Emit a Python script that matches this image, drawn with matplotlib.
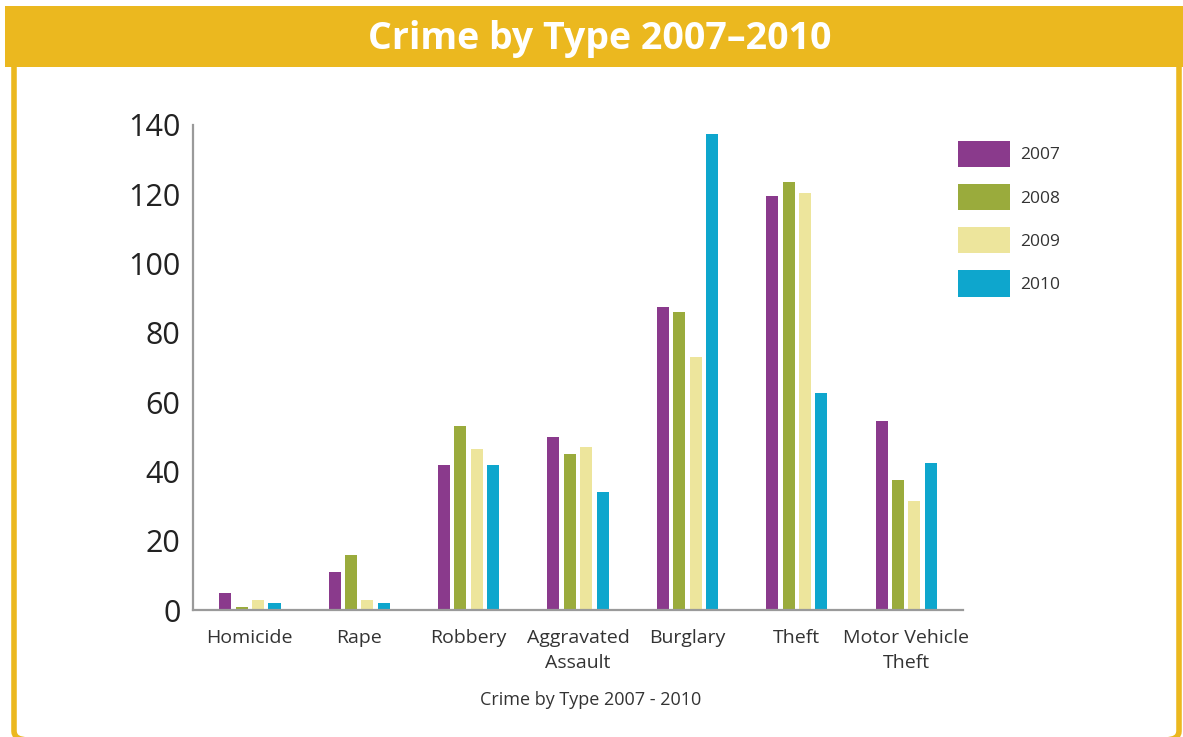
import matplotlib
matplotlib.use('Agg')
import numpy as np
import matplotlib.pyplot as plt
from matplotlib.patches import FancyBboxPatch, Rectangle

plt.rcParams['font.family'] = ['Open Sans', 'DejaVu Sans']

# datos
categorias = ['Homicide', 'Rape', 'Robbery', 'Aggravated\nAssault', 'Burglary',
              'Theft', 'Motor Vehicle\nTheft']
anios = ['2007', '2008', '2009', '2010']
v2007 = [5, 11, 42, 50, 87.5, 119.5, 54.5]
v2008 = [1, 16, 53, 45, 86, 123.5, 37.5]
v2009 = [3, 3, 46.5, 47, 73, 120.5, 31.5]
v2010 = [2, 2, 42, 34, 137.5, 62.5, 42.5]
colores = ['#8a3a8c', '#9aab3c', '#ede59c', '#0ea6cd']

amarillo = '#ebb81f'

fig = plt.figure(figsize=(11.83, 7.37), dpi=100)

# marco amarillo con esquinas redondeadas
marco = FancyBboxPatch((14 / 1183, -0.004), 1 - 14 / 1183 - 4 / 1183, 0.988,
                       boxstyle='round,pad=0,rounding_size=0.012',
                       transform=fig.transFigure, facecolor='white',
                       edgecolor=amarillo, linewidth=4, zorder=-2)
fig.patches.append(marco)
cabecera = Rectangle((5 / 1183, 1 - 67 / 737), 1 - 5 / 1183, 61 / 737,
                     transform=fig.transFigure, facecolor=amarillo,
                     edgecolor='none', zorder=-1)
fig.patches.append(cabecera)
fig.text(0.507, 1 - 39 / 737, 'Crime by Type 2007\u20132010', color='white',
         fontsize=27, fontweight='bold', ha='center', va='center')

ax = fig.add_axes([193 / 1183, 1 - 610 / 737, 770 / 1183, 485 / 737])
ax.set_facecolor('none')
x = np.arange(len(categorias))
paso = 0.15
ancho = 0.11
series = [v2007, v2008, v2009, v2010]
for i, (vals, anio) in enumerate(zip(series, anios)):
    ax.bar(x + (i - 1.5) * paso, vals, width=ancho, color=colores[i], label=anio)

ax.set_xlim(-0.52, 6.52)
ax.set_ylim(0, 140)
ax.set_yticks(range(0, 141, 20))
ax.set_xticks(x)
ax.set_xticklabels(categorias, fontsize=14, color='#333333', linespacing=1.45)
ax.tick_params(axis='y', labelsize=22, colors='#222222', length=0, pad=9)
ax.tick_params(axis='x', length=0, pad=14)
for s in ['top', 'right']:
    ax.spines[s].set_visible(False)
for s in ['left', 'bottom']:
    ax.spines[s].set_color('#9a9a9a')
    ax.spines[s].set_linewidth(1.6)
ax.set_xlabel('Crime by Type 2007 - 2010', fontsize=13, color='#333333',
              labelpad=14, x=0.517)

fig.legend(loc='upper left', bbox_to_anchor=(942 / 1183, 1 - 125 / 737),
           frameon=False, fontsize=12.5, handlelength=3.0, handleheight=1.95,
           labelspacing=0.98, handletextpad=0.6, labelcolor='#333333')

fig.savefig('out.png', dpi=100)
